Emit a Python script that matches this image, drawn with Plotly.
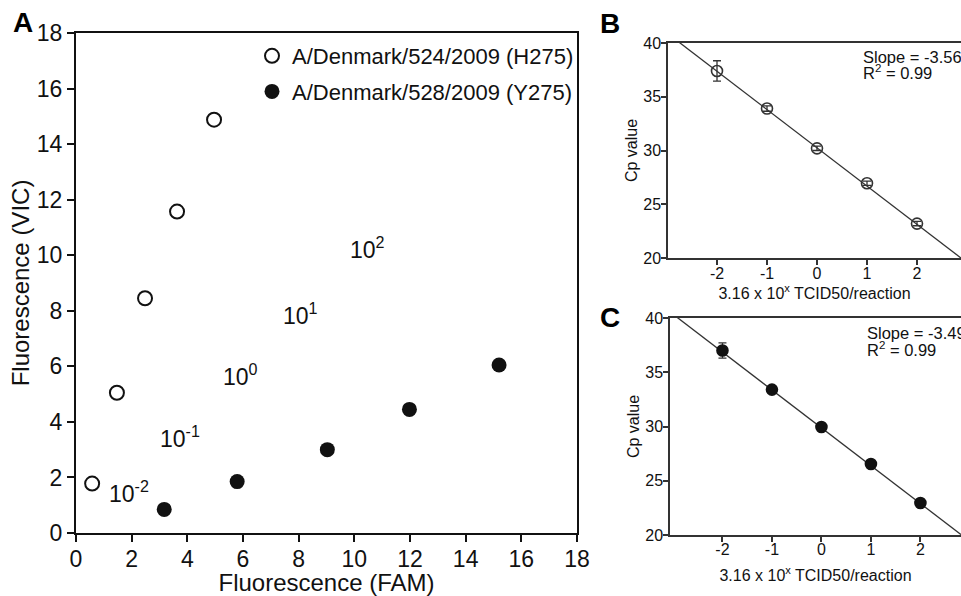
import numpy as np
import plotly.graph_objects as go

# ---------------- data ----------------
# Panel A: allelic discrimination plot
h275_fam = [0.58, 1.47, 2.48, 3.63, 4.96]
h275_vic = [1.78, 5.05, 8.45, 11.57, 14.88]
y275_fam = [3.17, 5.79, 9.03, 11.98, 15.2]
y275_vic = [0.85, 1.85, 3.0, 4.45, 6.05]
h275_name = "A/Denmark/524/2009 (H275)"
y275_name = "A/Denmark/528/2009 (Y275)"
dilution_text = ["10<sup>-2</sup>", "10<sup>-1</sup>", "10<sup>0</sup>", "10<sup>1</sup>", "10<sup>2</sup>"]
dilution_fam = [1.9, 3.74, 5.9, 8.06, 10.47]
dilution_vic = [1.47, 3.45, 5.7, 7.9, 10.25]

# Panels B and C: standard curves
log_dose = [-2, -1, 0, 1, 2]
log_dose_labels = ["-2", "-1", "0", "1", "2"]
cp_h275 = [37.4, 33.9, 30.2, 26.95, 23.2]
cp_h275_err = [0.95, 0.25, 0.2, 0.2, 0.2]
cp_y275 = [37.0, 33.4, 29.95, 26.55, 22.95]
cp_y275_err = [0.7, 0.35, 0.2, 0.15, 0.15]
fit_slope = [-3.56, -3.49]
fit_intercept = [30.25, 29.88]
fit_r2 = [0.99, 0.99]

W, H = 961, 596
FONT = "Arial, Liberation Sans, sans-serif"
INK = "#111111"
GREY = "#333333"

def px(x):
    return x / W

def py(y):
    return 1 - y / H

fig = go.Figure()

# Panel A traces
fig.add_trace(go.Scatter(
    x=h275_fam, y=h275_vic, mode="markers", name=h275_name,
    legendgroup="h", xaxis="x", yaxis="y",
    marker=dict(symbol="circle-open", size=14, color=INK, line=dict(width=2, color=INK)),
))
fig.add_trace(go.Scatter(
    x=y275_fam, y=y275_vic, mode="markers", name=y275_name,
    legendgroup="y", xaxis="x", yaxis="y",
    marker=dict(symbol="circle", size=15, color=INK),
))

# Panel B / C traces
rngB = [-2.98, 2.88]
rngC = [-3.06, 2.82]
for i, (cp, err, rng, xa, ya, sym) in enumerate([
    (cp_h275, cp_h275_err, rngB, "x2", "y2", "circle-open"),
    (cp_y275, cp_y275_err, rngC, "x3", "y3", "circle"),
]):
    xf = np.array(rng)
    fig.add_trace(go.Scatter(
        x=xf, y=fit_intercept[i] + fit_slope[i] * xf, mode="lines",
        line=dict(color=GREY, width=1.3), showlegend=False, xaxis=xa, yaxis=ya,
        hoverinfo="skip",
    ))
    fig.add_trace(go.Scatter(
        x=log_dose, y=cp, mode="markers", showlegend=False, xaxis=xa, yaxis=ya,
        error_y=dict(type="data", array=err, visible=True, color=GREY, thickness=1.3, width=4),
        marker=dict(symbol=sym, size=11, color=INK if sym == "circle" else GREY,
                    line=dict(width=1.6, color=INK if sym == "circle" else GREY)),
    ))

# Dilution labels in panel A
for t, xv, yv in zip(dilution_text, dilution_fam, dilution_vic):
    fig.add_annotation(x=xv, y=yv, xref="x", yref="y", text=t, showarrow=False,
                       xanchor="center", yanchor="middle",
                       font=dict(size=23, color=INK, family=FONT))

# Slope / R2 annotations
for i, (x0, y1, y2) in enumerate([(861, 57, 72), (865, 333, 349)]):
    fig.add_annotation(x=px(x0), y=py(y1), xref="paper", yref="paper", xanchor="left",
                       yanchor="middle", showarrow=False,
                       text="Slope = %.2f" % fit_slope[i], font=dict(size=16.5, color=INK, family=FONT))
    fig.add_annotation(x=px(x0), y=py(y2), xref="paper", yref="paper", xanchor="left",
                       yanchor="middle", showarrow=False,
                       text="R<sup>2</sup> = %.2f" % fit_r2[i], font=dict(size=16.5, color=INK, family=FONT))

# Panel letters
for letter, (cx, cy) in zip("ABC", [(23, 22), (610, 23), (610, 317)]):
    fig.add_annotation(x=px(cx), y=py(cy), xref="paper", yref="paper", showarrow=False,
                       xanchor="center", yanchor="middle",
                       text="<b>%s</b>" % letter, font=dict(size=28, color="#000", family=FONT))

axA = dict(showgrid=False, zeroline=False, showline=True, linewidth=2, linecolor=INK,
           mirror=True, ticks="outside", ticklen=7, tickwidth=2, tickcolor=INK,
           tickfont=dict(size=23, color=INK, family=FONT), automargin=False)
axBC = dict(showgrid=False, zeroline=False, showline=True, linewidth=1.5, linecolor=GREY,
            ticks="outside", ticklen=5, tickwidth=1.5, tickcolor=GREY,
            tickfont=dict(size=16, color=INK, family=FONT), automargin=False)

xtitle_bc = "3.16 x 10<sup>x</sup> TCID50/reaction"

fig.update_layout(
    width=W, height=H, margin=dict(l=0, r=0, t=0, b=0),
    paper_bgcolor="white", plot_bgcolor="white",
    font=dict(family=FONT, color=INK),
    xaxis=dict(axA, domain=[px(76), px(577)], range=[0, 18], dtick=2, anchor="y",
               ticklabelstandoff=-3,
               title=dict(text="Fluorescence (FAM)", font=dict(size=24), standoff=13)),
    yaxis=dict(axA, domain=[py(533), py(33)], range=[0, 18], dtick=2, anchor="x",
               title=dict(text="Fluorescence (VIC)", font=dict(size=24), standoff=0)),
    xaxis2=dict(axBC, domain=[px(668), 1.0], range=rngB, tickvals=log_dose,
                ticktext=log_dose_labels, anchor="y2", mirror=True, ticklabelstandoff=-5,
                title=dict(text=xtitle_bc, font=dict(size=16), standoff=0)),
    yaxis2=dict(axBC, domain=[py(258), py(43)], range=[20, 40], dtick=5, anchor="x2",
                ticklabelstandoff=-3,
                title=dict(text="Cp value", font=dict(size=16), standoff=2)),
    xaxis3=dict(axBC, domain=[px(670), 1.0], range=rngC, tickvals=log_dose,
                ticktext=log_dose_labels, anchor="y3", mirror=True, ticklabelstandoff=-6,
                title=dict(text=xtitle_bc, font=dict(size=16), standoff=13)),
    yaxis3=dict(axBC, domain=[py(535), py(318)], range=[20, 40], dtick=5, anchor="x3",
                ticklabelstandoff=-3,
                title=dict(text="Cp value", font=dict(size=16), standoff=2)),
    legend=dict(x=px(252), y=py(35), xanchor="left", yanchor="top",
                font=dict(size=22, color=INK, family=FONT), bgcolor="rgba(0,0,0,0)",
                traceorder="grouped", tracegroupgap=4),
    showlegend=True,
)

fig.write_html("out.html", config={"displayModeBar": False},
               post_script="document.body.style.margin='0';")
